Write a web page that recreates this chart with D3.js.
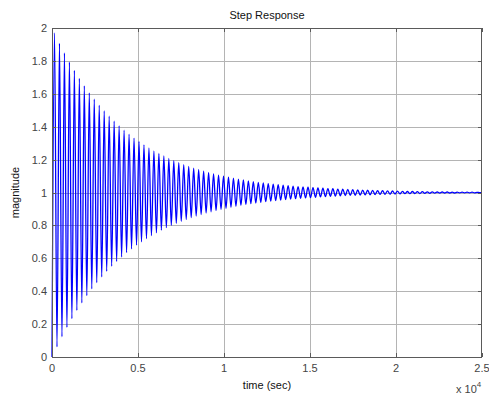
<!DOCTYPE html>
<html>
<head>
<meta charset="utf-8">
<script src="https://cdn.jsdelivr.net/npm/d3@7"></script>
<style>
  body { margin: 0; background: #fff; }
  text { font-family: "Liberation Sans", Arial, sans-serif; }
</style>
</head>
<body>
<div id="viz"></div>
<script>
// general variables
var w = 489
var h = 398
var margin = {top: 28, right: 7, bottom: 41, left: 52}

// extrema of the step response (time in sec, magnitude)
var peakTimes = [145,434,723,1012,1301,1590,1879,2168,2457,2746,3035,3324,3613,3902,4191,4480,4769,5058,5347,5636,5925,6214,6503,6792,7081,7370,7659,7948,8237,8526,8815,9104,9393,9682,9971,10260,10549,10838,11127,11416,11705,11994,12283,12572,12861,13150,13439,13728,14017,14306,14595,14884,15173,15462,15751,16040,16329,16618,16907,17196,17485,17774,18063,18352,18641,18930,19219,19508,19797,20086,20375,20664,20953,21242,21531,21820,22109,22398,22687,22976,23265,23554,23843,24132,24421,24710,24999]
var peakValues = [1.970,1.907,1.848,1.793,1.742,1.694,1.648,1.606,1.567,1.530,1.496,1.464,1.433,1.405,1.379,1.354,1.331,1.310,1.290,1.271,1.253,1.237,1.222,1.207,1.194,1.181,1.169,1.158,1.148,1.139,1.130,1.121,1.113,1.106,1.099,1.093,1.087,1.081,1.076,1.071,1.066,1.062,1.058,1.054,1.051,1.047,1.044,1.041,1.039,1.036,1.034,1.032,1.030,1.028,1.026,1.024,1.023,1.021,1.020,1.019,1.017,1.016,1.015,1.014,1.013,1.012,1.011,1.010,1.009,1.008,1.007,1.006,1.006,1.005,1.005,1.004,1.004,1.003,1.003,1.003,1.002,1.002,1.002,1.002,1.002,1.001,1.001]
var troughTimes = [290,579,868,1157,1446,1735,2024,2313,2602,2891,3180,3469,3758,4047,4336,4625,4914,5203,5492,5781,6070,6359,6648,6937,7226,7515,7804,8093,8382,8671,8960,9249,9538,9827,10116,10405,10694,10983,11272,11561,11850,12139,12428,12717,13006,13295,13584,13873,14162,14451,14740,15029,15318,15607,15896,16185,16474,16763,17052,17341,17630,17919,18208,18497,18786,19075,19364,19653,19942,20231,20520,20809,21098,21387,21676,21965,22254,22543,22832,23121,23410,23699,23988,24277,24566,24855]
var troughValues = [0.062,0.123,0.180,0.233,0.283,0.329,0.373,0.414,0.452,0.487,0.521,0.552,0.581,0.608,0.634,0.657,0.680,0.700,0.720,0.738,0.755,0.771,0.786,0.800,0.813,0.825,0.836,0.847,0.857,0.866,0.875,0.883,0.890,0.898,0.904,0.910,0.916,0.922,0.927,0.932,0.936,0.940,0.944,0.948,0.951,0.954,0.957,0.960,0.963,0.965,0.967,0.969,0.971,0.973,0.975,0.977,0.978,0.980,0.981,0.982,0.983,0.984,0.985,0.986,0.987,0.988,0.989,0.990,0.991,0.992,0.993,0.993,0.994,0.994,0.995,0.995,0.996,0.996,0.997,0.997,0.997,0.998,0.998,0.998,0.998,0.999]

// tick labels
var xTicks = [0, 5000, 10000, 15000, 20000, 25000]
var xTickLabels = ["0", "0.5", "1", "1.5", "2", "2.5"]
var yTicks = [0, 0.2, 0.4, 0.6, 0.8, 1, 1.2, 1.4, 1.6, 1.8, 2]
var yTickLabels = ["0", "0.2", "0.4", "0.6", "0.8", "1", "1.2", "1.4", "1.6", "1.8", "2"]

// build the response line: start at 0, then alternate peak / trough
var response = [[0, 0]]
peakTimes.forEach((t, i) => {
  response.push([t, peakValues[i]])
  if (i < troughTimes.length) response.push([troughTimes[i], troughValues[i]])
})

var x = d3.scaleLinear().domain([0, 25000]).range([margin.left, w - margin.right])
var y = d3.scaleLinear().domain([0, 2]).range([h - margin.bottom, margin.top])

var svg = d3.select("#viz")
  .append("svg")
  .attr("width", w)
  .attr("height", h)

var x0 = margin.left, x1 = w - margin.right
var y0 = h - margin.bottom, y1 = margin.top

// grid
var grid = svg.append("g").attr("stroke", "#b4b4b4").attr("stroke-width", 1)
grid.selectAll(".gx").data(xTicks.slice(1, -1)).enter()
  .append("line")
  .attr("x1", d => Math.round(x(d)) + 0.5).attr("x2", d => Math.round(x(d)) + 0.5)
  .attr("y1", y1).attr("y2", y0)
grid.selectAll(".gy").data(yTicks.slice(1, -1)).enter()
  .append("line")
  .attr("y1", d => Math.round(y(d)) + 0.5).attr("y2", d => Math.round(y(d)) + 0.5)
  .attr("x1", x0).attr("x2", x1)

// the response
svg.append("path")
  .datum(response)
  .attr("fill", "none")
  .attr("stroke", "#0000ff")
  .attr("stroke-width", 1.3)
  .attr("d", d3.line().x(d => x(d[0])).y(d => y(d[1])).curve(d3.curveMonotoneX))

// frame
svg.append("rect")
  .attr("x", x0 + 0.5).attr("y", y1 + 0.5)
  .attr("width", x1 - x0 - 1).attr("height", y0 - y1)
  .attr("fill", "none").attr("stroke", "#5a5a5a")

// inside ticks, top and bottom / left and right
var ticks = svg.append("g").attr("stroke", "#5a5a5a")
xTicks.forEach(t => {
  var px = Math.round(x(t)) + 0.5
  ticks.append("line").attr("x1", px).attr("x2", px).attr("y1", y0).attr("y2", y0 - 4)
  ticks.append("line").attr("x1", px).attr("x2", px).attr("y1", y1).attr("y2", y1 + 4)
})
yTicks.forEach(t => {
  var py = Math.round(y(t)) + 0.5
  ticks.append("line").attr("x1", x0).attr("x2", x0 + 4).attr("y1", py).attr("y2", py)
  ticks.append("line").attr("x1", x1).attr("x2", x1 - 4).attr("y1", py).attr("y2", py)
})

// tick labels
svg.selectAll(".xl").data(xTicks).enter()
  .append("text")
  .attr("x", d => x(d)).attr("y", y0 + 15)
  .attr("text-anchor", "middle")
  .attr("font-size", 11).attr("fill", "#444")
  .text((d, i) => xTickLabels[i])
svg.selectAll(".yl").data(yTicks).enter()
  .append("text")
  .attr("x", x0 - 5).attr("y", d => y(d) + 4)
  .attr("text-anchor", "end")
  .attr("font-size", 11).attr("fill", "#444")
  .text((d, i) => yTickLabels[i])

// title and axis labels
svg.append("text")
  .attr("x", (x0 + x1) / 2).attr("y", 19)
  .attr("text-anchor", "middle").attr("font-size", 11).attr("fill", "#111")
  .text("Step Response")
svg.append("text")
  .attr("x", (x0 + x1) / 2).attr("y", 389)
  .attr("text-anchor", "middle").attr("font-size", 11).attr("fill", "#111")
  .text("time (sec)")
svg.append("text")
  .attr("transform", "translate(19," + ((y0 + y1) / 2) + ") rotate(-90)")
  .attr("text-anchor", "middle").attr("font-size", 11).attr("fill", "#111")
  .text("magnitude")

// exponent label
var ex = svg.append("text")
  .attr("x", 456).attr("y", 393)
  .attr("font-size", 11).attr("fill", "#444")
ex.append("tspan").text("x 10")
ex.append("tspan").attr("dy", -6).attr("font-size", 8).text("4")
</script>
</body>
</html>
